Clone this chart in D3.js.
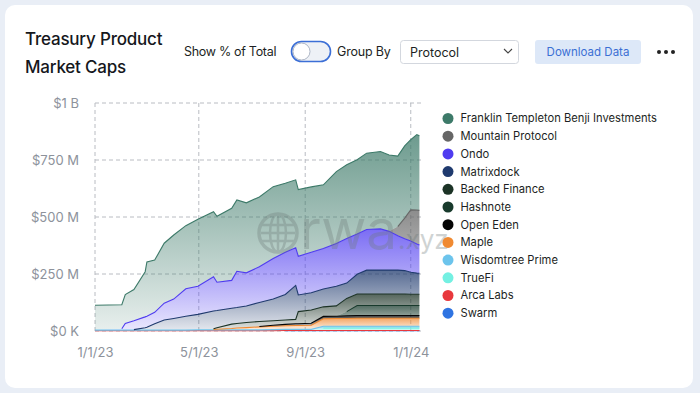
<!DOCTYPE html>
<html>
<head>
<meta charset="utf-8">
<script src="https://cdn.jsdelivr.net/npm/d3@7"></script>
<style>
  body { margin: 0; background: #e9eef6; font-family: Inter, "Noto Sans", sans-serif; }
  svg { display: block; }
</style>
</head>
<body>
<svg id="chart" width="700" height="393"></svg>
<script>
// values in $M
const dates = ['2023-01-01', '2023-02-01', '2023-02-05', '2023-02-15', '2023-02-28', '2023-03-02',
  '2023-03-11', '2023-03-22', '2023-04-02', '2023-04-16', '2023-04-30', '2023-05-18', '2023-05-22',
  '2023-06-08', '2023-06-14', '2023-06-25', '2023-07-10', '2023-07-26', '2023-08-09', '2023-08-21',
  '2023-08-24', '2023-09-08', '2023-09-22', '2023-10-07', '2023-10-19', '2023-10-31', '2023-11-11',
  '2023-11-27', '2023-12-07', '2023-12-17', '2023-12-25', '2024-01-01', '2024-01-08', '2024-01-11'];

const franklin = [109, 105, 127, 137, 198, 238, 229, 263, 281, 277, 294, 285, 289, 316, 313, 307, 306,
  315, 303, 298, 292, 287, 279, 315, 323, 326, 335, 339, 335, 309, 317, 308, 331, 327];
const mountain = [0, 0, 0, 0, 0, 0, 0, 0, 0, 0, 0, 0, 0, 0, 0, 0, 0, 0, 0, 0, 0, 0, 0, 0, 0, 0, 0, 0, 0,
  40, 90, 136, 148, 152];
const ondo = [0, 6, 29, 39, 48, 49, 50, 74, 85, 120, 123, 150, 124, 122, 159, 145, 157, 178, 185, 165,
  170, 177, 178, 188, 196, 176, 178, 181, 170, 151, 140, 137, 128, 124];
const matrixdock = [0, 0, 0, 2, 10, 12, 28, 44, 51, 61, 68, 78, 76, 70, 70, 73, 83, 95, 112, 149, 73,
  76, 78, 86, 67, 87, 105, 105, 105, 105, 103, 97, 93, 92];
const backed = [0, 0, 0, 0, 0, 0, 0, 0, 0, 0, 0, 3, 6, 19, 20, 22, 22, 20, 19, 19, 53, 58, 42, 45, 58,
  50, 50, 50, 50, 50, 50, 49, 49, 49];
const hashnote = [0, 0, 0, 0, 0, 0, 0, 0, 0, 0, 0, 0, 0, 0, 0, 0, 0, 0, 0, 0, 0, 0, 0, 0, 18, 44, 44,
  44, 44, 44, 44, 44, 44, 44];
const openEden = [0, 0, 0, 0, 0, 0, 0, 0, 0, 0, 0, 0, 0, 0, 0, 0, 2, 4, 6, 8, 8, 9, 10, 10, 12, 12, 12,
  12, 12, 12, 12, 12, 12, 12];
const maple = [0, 0, 0, 0, 0, 0, 0, 0, 0, 0, 0, 2, 3, 6, 8, 10, 13, 15, 16, 17, 17, 18, 33, 34, 34, 35,
  35, 35, 35, 35, 35, 35, 35, 35];
const wisdomtree = [3, 3, 3, 3, 3, 3, 3, 3, 3, 3, 4, 4, 4, 4, 4, 4, 4, 5, 5, 5, 5, 5, 8, 8, 8, 8, 8, 8,
  8, 8, 8, 8, 8, 8];
const truefi = [0, 0, 0, 0, 0, 0, 0, 0, 0, 0, 0, 0, 0, 0, 0, 0, 0, 0, 0, 0, 0, 0, 11, 11, 11, 11, 11,
  11, 11, 11, 11, 11, 11, 11];
const arca = [1, 1, 1, 1, 1, 1, 1, 1, 1, 1, 1, 1, 1, 1, 1, 1, 1, 1, 1, 1, 1, 1, 1, 1, 1, 1, 1, 1, 1, 1,
  1, 1, 1, 1];
const swarm = [0, 0, 0, 0, 0, 0, 0, 0, 0, 0, 0, 0, 0, 0, 0, 0, 0, 0, 1, 1, 1, 1, 1, 1, 1, 1, 1, 1, 1, 1,
  1, 1, 1, 1];

// legend order = top of stack first
const seriesNames = ['Franklin Templeton Benji Investments', 'Mountain Protocol', 'Ondo', 'Matrixdock',
  'Backed Finance', 'Hashnote', 'Open Eden', 'Maple', 'Wisdomtree Prime', 'TrueFi', 'Arca Labs', 'Swarm'];
const seriesValues = [franklin, mountain, ondo, matrixdock, backed, hashnote, openEden, maple,
  wisdomtree, truefi, arca, swarm];
const seriesColors = ['#3d7a69', '#666666', '#4f3cf0', '#1f3a6e', '#1c3326', '#183a2c', '#050505',
  '#f08a32', '#6cc4ec', '#74f0e2', '#e8383d', '#2f74e2'];

const yTicks = [0, 250, 500, 750, 1000];
const yTickLabels = ['$0 K', '$250 M', '$500 M', '$750 M', '$1 B'];
const xTicks = ['2023-01-01', '2023-05-01', '2023-09-01', '2024-01-01'];
const xTickLabels = ['1/1/23', '5/1/23', '9/1/23', '1/1/24'];
const xEnd = '2024-01-14';

const parse = d3.timeParse('%Y-%m-%d');
const svg = d3.select('#chart');

// card
svg.append('rect')
  .attr('x', 5).attr('y', 5).attr('width', 688).attr('height', 383)
  .attr('rx', 10).attr('fill', '#ffffff');

// title + controls
svg.append('text').attr('x', 25).attr('y', 45).text('Treasury Product')
  .attr('font-size', 17).attr('fill', '#15171c').attr('font-weight', 500)
  .attr('letter-spacing', -0.2);
svg.append('text').attr('x', 25).attr('y', 73).text('Market Caps')
  .attr('font-size', 17).attr('fill', '#15171c').attr('font-weight', 500)
  .attr('letter-spacing', -0.2);

svg.append('text').attr('x', 184).attr('y', 56).text('Show % of Total')
  .attr('font-size', 12.5).attr('fill', '#1d1f24').attr('letter-spacing', -0.3);
svg.append('rect').attr('x', 291.5).attr('y', 41.5).attr('width', 39).attr('height', 20).attr('rx', 10)
  .attr('fill', '#eef1f6').attr('stroke', '#3c6fd6').attr('stroke-width', 1.6);
svg.append('circle').attr('cx', 301.5).attr('cy', 51.5).attr('r', 8.5)
  .attr('fill', '#fff').attr('stroke', '#9aa5b8').attr('stroke-width', 0.8);
svg.append('text').attr('x', 337).attr('y', 56).text('Group By')
  .attr('font-size', 12.5).attr('fill', '#1d1f24').attr('letter-spacing', -0.2);
svg.append('rect').attr('x', 400.5).attr('y', 40.5).attr('width', 118).attr('height', 23).attr('rx', 3)
  .attr('fill', '#fff').attr('stroke', '#d3d7de');
svg.append('text').attr('x', 410).attr('y', 56.5).text('Protocol')
  .attr('font-size', 12.5).attr('fill', '#1d1f24');
svg.append('path').attr('d', 'M504,49 L508,53 L512,49')
  .attr('fill', 'none').attr('stroke', '#444').attr('stroke-width', 1.1);
svg.append('rect').attr('x', 535).attr('y', 40).attr('width', 106).attr('height', 24).attr('rx', 3)
  .attr('fill', '#dde8f8');
svg.append('text').attr('x', 588).attr('y', 56).text('Download Data')
  .attr('text-anchor', 'middle').attr('font-size', 11.5).attr('fill', '#3b6fd4');
[659, 666, 673].forEach((cx) => {
  svg.append('circle').attr('cx', cx).attr('cy', 52).attr('r', 2).attr('fill', '#222');
});

// scales
const x = d3.scaleTime()
  .domain([parse(dates[0]), parse(xEnd)])
  .range([95, 422]);
const y = d3.scaleLinear()
  .domain([0, 1000])
  .range([331, 103]);

// grid
const grid = svg.append('g');
grid.selectAll('.hgrid')
  .data(yTicks)
  .enter()
  .append('line')
  .attr('x1', 95).attr('x2', 422)
  .attr('y1', (d) => y(d)).attr('y2', (d) => y(d))
  .attr('stroke', '#b9bcc2').attr('stroke-dasharray', '4,3');
grid.selectAll('.vgrid')
  .data(xTicks)
  .enter()
  .append('line')
  .attr('x1', (d) => x(parse(d))).attr('x2', (d) => x(parse(d)))
  .attr('y1', 103).attr('y2', 331)
  .attr('stroke', '#b9bcc2').attr('stroke-dasharray', '4,3');

// stack, bottom series first
const rows = dates.map((d, i) => {
  const row = { date: parse(d) };
  seriesNames.forEach((name, k) => { row[name] = seriesValues[k][i]; });
  return row;
});
const keys = seriesNames.slice().reverse();
const stacked = d3.stack().keys(keys)(rows);
const colorOf = d3.scaleOrdinal().domain(seriesNames).range(seriesColors);

const defs = svg.append('defs');
keys.forEach((name, i) => {
  const g = defs.append('linearGradient')
    .attr('id', `grad${i}`)
    .attr('x1', 0).attr('x2', 0).attr('y1', 0).attr('y2', 1);
  g.append('stop').attr('offset', '0%').attr('stop-color', colorOf(name)).attr('stop-opacity', 0.75);
  g.append('stop').attr('offset', '100%').attr('stop-color', colorOf(name)).attr('stop-opacity', 0.12);
});

const area = d3.area()
  .x((d) => x(d.data.date))
  .y0((d) => y(d[0]))
  .y1((d) => y(d[1]));
const topLine = d3.line()
  .x((d) => x(d.data.date))
  .y((d) => y(d[1]));

const layers = svg.append('g');
stacked.forEach((s, i) => {
  layers.append('path')
    .datum(s)
    .attr('d', area)
    .attr('fill', `url(#grad${i})`);
});
stacked.forEach((s) => {
  layers.append('path')
    .datum(s.filter((d) => d[1] - d[0] > 0))
    .attr('d', topLine)
    .attr('fill', 'none')
    .attr('stroke', colorOf(s.key))
    .attr('stroke-width', 1.1);
});

// watermark
const wm = svg.append('g').attr('opacity', 0.32);
wm.append('circle').attr('cx', 278).attr('cy', 233).attr('r', 19)
  .attr('fill', 'none').attr('stroke', '#6d7a78').attr('stroke-width', 3.5);
wm.append('ellipse').attr('cx', 278).attr('cy', 233).attr('rx', 8).attr('ry', 19)
  .attr('fill', 'none').attr('stroke', '#6d7a78').attr('stroke-width', 2.5);
[-8, 0, 8].forEach((dy) => {
  wm.append('line').attr('x1', 261).attr('x2', 295).attr('y1', 233 + dy).attr('y2', 233 + dy)
    .attr('stroke', '#6d7a78').attr('stroke-width', 2.5);
});
wm.append('line').attr('x1', 278).attr('x2', 278).attr('y1', 214).attr('y2', 252)
  .attr('stroke', '#6d7a78').attr('stroke-width', 2.5);
wm.append('text').attr('x', 300).attr('y', 249).text('rwa')
  .attr('font-size', 55).attr('fill', '#6d7a78');
wm.append('text').attr('x', 398).attr('y', 249).text('.xyz')
  .attr('font-size', 26).attr('fill', '#6d7a78');

// axes
const yAxis = svg.append('g')
  .attr('transform', 'translate(82,0)')
  .call(d3.axisLeft(y).tickValues(yTicks).tickSize(0)
    .tickFormat((d, i) => yTickLabels[i]));
yAxis.select('.domain').remove();
yAxis.selectAll('text').attr('font-size', 13).attr('fill', '#8d929b')
  .attr('font-family', 'Inter, sans-serif');

const xAxis = svg.append('g')
  .attr('transform', 'translate(0,345)')
  .call(d3.axisBottom(x).tickValues(xTicks.map(parse)).tickSize(0)
    .tickFormat((d, i) => xTickLabels[i]));
xAxis.select('.domain').remove();
xAxis.selectAll('text').attr('font-size', 13).attr('fill', '#8d929b')
  .attr('font-family', 'Inter, sans-serif');

// legend
const legend = svg.append('g').attr('transform', 'translate(448,118.5)');
const item = legend.selectAll('g')
  .data(seriesNames)
  .enter()
  .append('g')
  .attr('transform', (d, i) => `translate(0,${i * 17.7})`);
item.append('circle').attr('r', 5.5).attr('fill', (d) => colorOf(d));
item.append('text')
  .attr('x', 12.5).attr('dy', '0.35em')
  .attr('font-size', 11.2).attr('fill', '#1d1f24')
  .text((d) => d);
</script>
</body>
</html>
